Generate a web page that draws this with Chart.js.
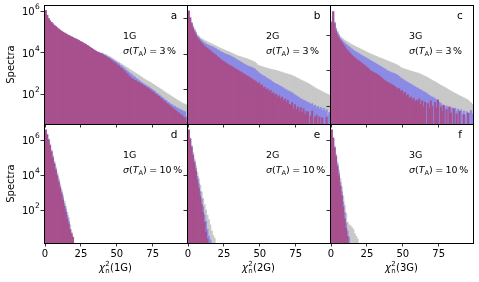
<!DOCTYPE html>
<html>
<head>
<meta charset="utf-8">
<script src="https://cdn.jsdelivr.net/npm/chart.js@4.4.1/dist/chart.umd.min.js"></script>
<style>
  html, body { margin: 0; padding: 0; background: #fff; }
  #wrap { position: relative; width: 479px; height: 282px; overflow: hidden; }
  #wrap canvas { position: absolute; }
</style>
</head>
<body>
<div id="wrap"></div>
<script>
// histogram counts as log10, one value per unit-wide bin
// top row starts at bin [-1,0), bottom row at bin [0,1)
const magA = [5.00,
  6.05,5.82,5.66,5.55,5.47,5.40,5.33,5.27,5.21,5.15,
  5.10,5.05,5.00,4.96,4.92,4.88,4.84,4.81,4.77,4.74,
  4.70,4.67,4.64,4.60,4.56,4.52,4.48,4.44,4.40,4.36,
  4.31,4.26,4.22,4.17,4.12,4.08,4.04,4.01,3.98,3.95,
  3.91,3.86,3.83,3.77,3.73,3.69,3.62,3.58,3.52,3.49,
  3.41,3.37,3.29,3.25,3.17,3.12,3.03,2.98,2.89,2.83,
  2.76,2.73,2.67,2.65,2.59,2.57,2.51,2.49,2.42,2.40,
  2.33,2.31,2.25,2.21,2.13,2.11,2.03,1.99,1.92,1.89,
  1.81,1.77,1.69,1.66,1.58,1.53,1.47,1.41,1.35,1.31,
  1.24,1.19,1.11,1.09,1.01,0.99,0.89,0.86,0.66];
const blueA = [5.05,
  6.05,5.82,5.66,5.55,5.47,5.40,5.33,5.27,5.21,5.15,
  5.10,5.05,5.00,4.96,4.92,4.88,4.84,4.81,4.77,4.74,
  4.70,4.67,4.64,4.60,4.56,4.52,4.48,4.44,4.40,4.36,
  4.31,4.26,4.22,4.17,4.12,4.08,4.04,4.01,3.99,3.97,
  3.94,3.90,3.87,3.82,3.79,3.75,3.69,3.66,3.60,3.57,
  3.50,3.47,3.40,3.36,3.29,3.24,3.17,3.12,3.05,3.00,
  2.95,2.88,2.84,2.77,2.73,2.66,2.62,2.56,2.52,2.46,
  2.43,2.38,2.35,2.29,2.24,2.19,2.14,2.07,2.03,1.96,
  1.92,1.84,1.81,1.73,1.70,1.62,1.59,1.52,1.49,1.43,
  1.41,1.36,1.33,1.28,1.26,1.22,1.18,1.15,0.92];
const greyA = [5.85,
  6.06,5.83,5.67,5.56,5.48,5.41,5.34,5.28,5.22,5.16,
  5.11,5.06,5.01,4.97,4.93,4.89,4.85,4.82,4.78,4.75,
  4.71,4.68,4.65,4.61,4.57,4.53,4.49,4.45,4.41,4.37,
  4.32,4.27,4.23,4.18,4.14,4.10,4.06,4.03,4.01,3.99,
  3.97,3.93,3.91,3.87,3.84,3.80,3.76,3.71,3.67,3.62,
  3.58,3.55,3.49,3.46,3.40,3.37,3.31,3.28,3.22,3.18,
  3.13,3.09,3.04,3.00,2.95,2.91,2.86,2.82,2.76,2.73,
  2.68,2.64,2.61,2.57,2.52,2.48,2.43,2.39,2.34,2.30,
  2.25,2.21,2.15,2.11,2.06,2.02,1.97,1.93,1.88,1.84,
  1.79,1.75,1.70,1.67,1.61,1.58,1.54,1.52,1.48];

const magB = [4.88,
  6.40,6.02,5.70,5.45,5.25,5.08,4.93,4.82,4.72,4.62,
  4.52,4.45,4.38,4.32,4.26,4.20,4.12,4.06,4.00,3.94,
  3.86,3.80,3.72,3.66,3.60,3.56,3.50,3.45,3.40,3.35,
  3.31,3.26,3.21,3.16,3.11,3.06,3.02,2.97,2.92,2.87,
  2.82,2.76,2.73,2.66,2.62,2.56,2.51,2.47,2.36,2.40,
  2.25,2.28,2.12,2.15,2.02,2.06,1.92,1.98,1.80,1.85,
  1.72,1.76,1.60,1.68,1.52,1.60,1.40,1.50,1.30,1.44,
  1.20,1.16,1.30,0.95,1.18,0.90,1.05,0.78,1.02,0.72,
  0.95,0.62,0.80,0.78,null,0.55,0.82,null,0.48,0.60,
  null,0.50,null,0.45,null,null,0.48,null,null];
const blueB = [4.95,
  6.40,6.03,5.74,5.52,5.34,5.18,5.02,4.92,4.83,4.75,
  4.68,4.62,4.57,4.53,4.49,4.45,4.42,4.39,4.34,4.30,
  4.25,4.20,4.15,4.11,4.07,4.03,4.00,3.97,3.94,3.90,
  3.86,3.82,3.77,3.72,3.67,3.62,3.58,3.53,3.48,3.43,
  3.39,3.35,3.31,3.28,3.25,3.22,3.17,3.10,3.02,2.95,
  2.88,2.84,2.78,2.75,2.68,2.64,2.58,2.55,2.47,2.42,
  2.37,2.33,2.30,2.24,2.21,2.15,2.12,2.05,2.02,1.95,
  1.93,1.88,1.85,1.78,1.72,1.68,1.62,1.57,1.50,1.48,
  1.42,1.40,1.35,1.30,1.28,1.20,1.24,1.10,1.15,1.02,
  1.08,0.95,1.02,0.85,0.98,0.80,0.90,0.60,0.75];
const greyB = [6.18,
  6.41,6.05,5.78,5.57,5.40,5.24,5.07,4.99,4.91,4.85,
  4.81,4.76,4.72,4.68,4.64,4.60,4.57,4.53,4.49,4.45,
  4.41,4.37,4.33,4.30,4.26,4.23,4.19,4.16,4.13,4.09,
  4.05,4.02,3.98,3.94,3.91,3.88,3.86,3.83,3.80,3.78,
  3.76,3.72,3.69,3.66,3.63,3.59,3.55,3.48,3.40,3.36,
  3.33,3.30,3.28,3.25,3.23,3.20,3.18,3.16,3.14,3.12,
  3.11,3.09,3.06,3.04,3.01,2.99,2.96,2.93,2.91,2.88,
  2.86,2.84,2.81,2.77,2.73,2.69,2.65,2.61,2.56,2.52,
  2.49,2.45,2.41,2.37,2.32,2.27,2.22,2.17,2.12,2.07,
  2.03,1.98,1.95,1.90,1.86,1.82,1.78,1.75,1.72];

const magC = [4.87,
  5.75,6.37,5.68,5.25,5.05,4.88,4.75,4.63,4.52,4.40,
  4.26,4.17,4.08,3.99,3.90,3.82,3.75,3.68,3.62,3.56,
  3.50,3.44,3.37,3.31,3.24,3.18,3.10,3.02,2.97,2.93,
  2.88,2.84,2.78,2.73,2.66,2.60,2.52,2.45,2.40,2.34,
  2.30,2.26,2.21,2.18,2.10,2.05,1.96,2.00,1.85,1.88,
  1.70,1.78,1.58,1.66,1.45,1.52,1.38,1.45,1.25,1.35,
  1.28,1.40,1.10,1.30,0.95,1.22,null,1.15,0.85,1.30,
  1.00,null,1.20,0.90,1.35,null,0.95,0.70,1.05,null,
  0.80,null,0.95,0.60,null,0.85,null,0.55,null,0.70,
  null,null,0.50,null,null,0.60,null,null,null];
const blueC = [5.00,
  5.78,6.37,5.75,5.38,5.17,5.00,4.86,4.76,4.67,4.59,
  4.51,4.45,4.38,4.32,4.25,4.19,4.13,4.08,4.03,3.98,
  3.93,3.88,3.83,3.79,3.74,3.69,3.64,3.59,3.55,3.50,
  3.45,3.41,3.36,3.31,3.26,3.21,3.16,3.11,3.06,3.00,
  2.97,2.93,2.90,2.86,2.84,2.80,2.74,2.68,2.60,2.55,
  2.50,2.44,2.40,2.34,2.30,2.25,2.20,2.15,2.10,2.05,
  2.02,1.95,1.93,1.86,1.83,1.77,1.74,1.66,1.62,1.55,
  1.52,1.48,1.42,1.36,1.30,1.22,1.15,1.05,0.98,0.90,
  1.00,0.92,0.95,0.85,0.90,0.80,0.88,0.70,0.82,0.65,
  0.78,0.55,0.72,0.50,0.68,null,0.60,0.75,0.55];
const greyC = [6.09,
  5.80,6.37,5.78,5.45,5.25,5.08,4.95,4.88,4.81,4.75,
  4.69,4.64,4.59,4.54,4.50,4.45,4.41,4.37,4.33,4.29,
  4.25,4.21,4.17,4.13,4.09,4.05,4.01,3.97,3.93,3.90,
  3.86,3.83,3.79,3.76,3.73,3.70,3.67,3.63,3.60,3.56,
  3.53,3.50,3.47,3.43,3.40,3.36,3.32,3.26,3.20,3.16,
  3.13,3.10,3.08,3.05,3.02,3.00,2.97,2.95,2.92,2.90,
  2.88,2.85,2.81,2.77,2.73,2.69,2.65,2.61,2.56,2.51,
  2.46,2.42,2.38,2.33,2.28,2.23,2.18,2.14,2.09,2.05,
  2.00,1.95,1.90,1.85,1.81,1.76,1.72,1.68,1.63,1.59,
  1.55,1.51,1.47,1.43,1.39,1.34,1.25,1.18,1.10];

const magD = [6.57,6.30,6.00,5.68,5.33,4.98,4.64,4.30,3.96,3.62,
  3.28,2.95,2.60,2.25,1.92,1.55,1.25,0.92,0.70,0.50];
const blueD = [6.57,6.31,6.02,5.71,5.37,5.03,4.70,4.37,4.04,3.71,
  3.38,3.06,2.73,2.40,2.08,1.75,1.40,0.95,0.60];
const greyD = [6.58,6.33,6.06,5.77,5.45,5.12,4.80,4.48,4.16,3.84,
  3.52,3.20,2.88,2.55,2.23,1.92,1.62,1.20,0.80,0.45];

const magE = [6.57,6.05,5.58,5.12,4.70,4.25,3.75,3.28,2.80,2.35,
  1.90,1.35,0.80,0.40];
const blueE = [6.57,6.08,5.64,5.20,4.80,4.40,3.95,3.52,3.08,2.65,
  2.22,1.75,1.40,0.95,0.55,0.35];
const greyE = [6.58,6.12,5.70,5.30,4.92,4.55,4.18,3.82,3.45,3.07,
  2.70,2.35,2.05,1.75,1.50,1.20,0.85,0.60,0.45];

const magF = [6.57,6.10,5.55,5.05,4.50,3.98,3.40,2.85,2.20,1.55,
  1.00,0.55];
const blueF = [6.57,6.12,5.60,5.12,4.62,4.12,3.60,3.08,2.50,1.90,
  1.30,0.85,0.50];
const greyF = [6.58,6.15,5.65,5.20,4.75,4.30,3.82,3.35,2.85,2.30,
  1.85,1.35,1.20,1.15,1.05,0.95,0.70,0.55,0.40];

// axis ticks and limits (log10 for y)
const xTicks = [0, 25, 50, 75];
const xRange = [-0.7, 98.9];
const yTicksEven = [1e2, 1e4, 1e6];
const yTicksOdd = [1e1, 1e3, 1e5];
const yRangeA = [0.56, 6.32];
const yRangeB = [0.10, 6.74];
const yRangeC = [-0.02, 6.75];
const yRangeLow = [0.17, 6.91];

const gens = ["1G", "2G", "3G"];
const sigmas = ["3", "10"];
const letters = ["a", "b", "c", "d", "e", "f"];

const colors = { mag: "#a8508e", blue: "#8b8be6", grey: "#c8c8c8" };
const FONT = "'DejaVu Sans'";

const PANEL_W = 143, PANEL_H = 119;
const colLeft = [44, 187, 330];
const rowTop = [5, 124];

const panels = [
  { row: 0, col: 0, mag: magA, blue: blueA, grey: greyA, yRange: yRangeA, yTicks: yTicksEven, x0: -1 },
  { row: 0, col: 1, mag: magB, blue: blueB, grey: greyB, yRange: yRangeB, yTicks: yTicksEven, x0: -1 },
  { row: 0, col: 2, mag: magC, blue: blueC, grey: greyC, yRange: yRangeC, yTicks: yTicksOdd, x0: -1 },
  { row: 1, col: 0, mag: magD, blue: blueD, grey: greyD, yRange: yRangeLow, yTicks: yTicksEven, x0: 0 },
  { row: 1, col: 1, mag: magE, blue: blueE, grey: greyE, yRange: yRangeLow, yTicks: yTicksEven, x0: 0 },
  { row: 1, col: 2, mag: magF, blue: blueF, grey: greyF, yRange: yRangeLow, yTicks: yTicksEven, x0: 0 },
];

function toPoints(logs, x0) {
  const pts = [];
  logs.forEach((v, i) => {
    if (v !== null) pts.push({ x: x0 + i + 0.5, y: Math.pow(10, v) });
  });
  return pts;
}

// σ(T_A) = n %
function drawSigma(ctx, x, y, pct) {
  let cx = x;
  const put = (t, font, dy) => {
    ctx.font = font;
    ctx.fillText(t, cx, y + dy);
    cx += ctx.measureText(t).width;
  };
  put("σ", "italic 9.5px " + FONT, 0);
  put("(", "9.5px " + FONT, 0);
  put("T", "italic 9.5px " + FONT, 0);
  put("A", "6.7px " + FONT, 1.8);
  put(")", "9.5px " + FONT, 0);
  cx += 2.4;
  put("=", "9.5px " + FONT, 0);
  cx += 2.4;
  put(pct, "9.5px " + FONT, 0);
  cx += 1.5;
  put("%", "9.5px " + FONT, 0);
}

// χ²n(1G), superscript and subscript stacked
function drawChiLabel(ctx, centerX, y, gen) {
  const it = "italic 10px " + FONT, reg = "10px " + FONT, small = "7px " + FONT;
  ctx.font = it; const w1 = ctx.measureText("χ").width;
  ctx.font = small; const w2 = Math.max(ctx.measureText("2").width, ctx.measureText("n").width);
  ctx.font = reg; const w3 = ctx.measureText("(" + gen + ")").width;
  let x = centerX - (w1 + w2 + 0.5 + w3) / 2;
  ctx.textAlign = "left";
  ctx.font = it; ctx.fillText("χ", x, y); x += w1 + 0.3;
  ctx.font = small; ctx.fillText("2", x, y - 4.6); ctx.fillText("n", x, y + 2.4); x += w2 + 0.2;
  ctx.font = reg; ctx.fillText("(" + gen + ")", x, y);
}

function drawDecor(chart, p) {
  const ctx = chart.ctx;
  const ca = chart.chartArea;
  ctx.save();
  ctx.strokeStyle = "#000";
  ctx.lineWidth = 1;
  ctx.strokeRect(ca.left + 0.5, ca.top + 0.5, ca.right - ca.left, ca.bottom - ca.top);

  ctx.fillStyle = "#000";
  ctx.textBaseline = "alphabetic";
  ctx.textAlign = "center";
  ctx.font = "10.5px " + FONT;
  ctx.fillText(letters[p.row * 3 + p.col], ca.left + 130, ca.top + 14.3);

  ctx.textAlign = "left";
  ctx.font = "9.5px " + FONT;
  ctx.fillText(gens[p.col], ca.left + 79, ca.top + 34.3);
  drawSigma(ctx, ca.left + 79, ca.top + 49, sigmas[p.row]);

  if (p.col === 0) {
    // y tick labels as 10 with superscript
    const ys = chart.scales.y;
    ys.ticks.forEach((t) => {
      const py = ys.getPixelForValue(t.value);
      const ex = String(Math.round(Math.log10(t.value)));
      ctx.font = "10px " + FONT; const wb = ctx.measureText("10").width;
      ctx.font = "7.5px " + FONT; const we = ctx.measureText(ex).width;
      const x = ca.left - 4.5 - wb - we;
      ctx.font = "10px " + FONT; ctx.fillText("10", x, py + 3.8);
      ctx.font = "7.5px " + FONT; ctx.fillText(ex, x + wb + 0.3, py - 2.2);
    });
    ctx.save();
    ctx.translate(ca.left - 33, (ca.top + ca.bottom) / 2);
    ctx.rotate(-Math.PI / 2);
    ctx.textAlign = "center";
    ctx.textBaseline = "middle";
    ctx.font = "10px " + FONT;
    ctx.fillText("Spectra", 0, 0);
    ctx.restore();
  }
  if (p.row === 1) {
    drawChiLabel(ctx, (ca.left + ca.right) / 2, ca.bottom + 28, gens[p.col]);
  }
  ctx.restore();
}

function makePanel(p) {
  const yw = p.col === 0 ? 44 : 8;
  const xh = p.row === 0 ? 6 : 39;
  const canvas = document.createElement("canvas");
  canvas.width = yw + PANEL_W + 4;
  canvas.height = 5 + PANEL_H + xh;
  canvas.style.left = (colLeft[p.col] - yw) + "px";
  canvas.style.top = (rowTop[p.row] - 5) + "px";
  document.getElementById("wrap").appendChild(canvas);

  const tickGrid = {
    display: true,
    drawOnChartArea: false,
    drawTicks: true,
    offset: false,
    tickLength: 3.5,
    color: "#000",
    lineWidth: 0.8,
  };

  new Chart(canvas, {
    type: "bar",
    data: {
      datasets: [
        { data: toPoints(p.mag, p.x0), backgroundColor: colors.mag },
        { data: toPoints(p.blue, p.x0), backgroundColor: colors.blue },
        { data: toPoints(p.grey, p.x0), backgroundColor: colors.grey },
      ],
    },
    options: {
      responsive: false,
      animation: false,
      devicePixelRatio: 1,
      layout: { padding: { top: 5, right: 4, left: 0, bottom: 0 } },
      datasets: {
        bar: { grouped: false, barPercentage: 1, categoryPercentage: 1, borderWidth: 0 },
      },
      plugins: { legend: { display: false }, tooltip: { enabled: false } },
      scales: {
        x: {
          type: "linear",
          offset: false,
          min: xRange[0],
          max: xRange[1],
          grid: tickGrid,
          border: { display: false },
          afterBuildTicks: (s) => { s.ticks = xTicks.map((v) => ({ value: v })); },
          afterFit: (s) => { s.height = xh; },
          ticks: {
            display: p.row === 1,
            autoSkip: false,
            maxRotation: 0,
            padding: 2,
            color: "#000",
            font: { family: FONT, size: 10 },
          },
        },
        y: {
          type: "logarithmic",
          min: Math.pow(10, p.yRange[0]),
          max: Math.pow(10, p.yRange[1]),
          grid: tickGrid,
          border: { display: false },
          afterBuildTicks: (s) => { s.ticks = p.yTicks.map((v) => ({ value: v })); },
          afterFit: (s) => { s.width = yw; },
          ticks: { display: false },
        },
      },
    },
    plugins: [{ id: "decor", afterDraw: (chart) => drawDecor(chart, p) }],
  });
}

panels.forEach(makePanel);
</script>
</body>
</html>
